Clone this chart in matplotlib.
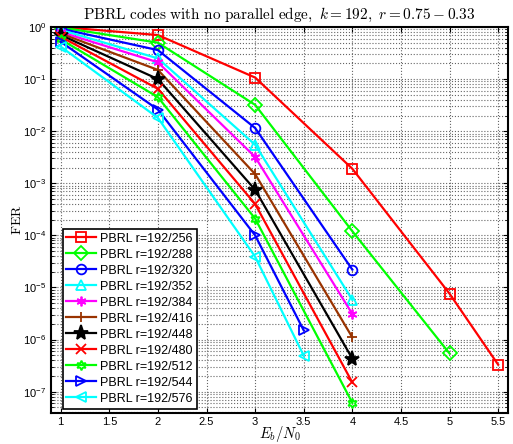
import matplotlib
matplotlib.use('Agg')
import matplotlib.pyplot as plt
import matplotlib.ticker as mticker
import numpy as np

plt.rcParams['mathtext.fontset'] = 'cm'
plt.rcParams['font.family'] = ['Liberation Sans', 'DejaVu Sans']

# Eb/N0 and FER
snr_long = [1, 2, 3, 4, 5, 5.5]
snr_288 = [1, 2, 3, 4, 5]
snr_4 = [1, 2, 3, 4]
snr_35 = [1, 2, 3, 3.5]

fer_256 = [1.0, 0.70, 0.107, 1.9e-3, 7.6e-6, 3.3e-7]
fer_288 = [0.98, 0.50, 0.032, 1.2e-4, 5.4e-7]
fer_320 = [0.93, 0.36, 0.0115, 2.2e-5]
fer_352 = [0.88, 0.25, 0.0055, 5.8e-6]
fer_384 = [0.80, 0.21, 3.2e-3, 3.1e-6]
fer_416 = [0.75, 0.15, 1.5e-3, 1.1e-6]
fer_448 = [0.70, 0.10, 7.5e-4, 4.3e-7]
fer_480 = [0.65, 0.065, 4.0e-4, 1.5e-7]
fer_512 = [0.58, 0.045, 2.1e-4, 6.1e-8]
fer_544 = [0.52, 0.026, 1.0e-4, 1.5e-6]
fer_576 = [0.42, 0.018, 3.9e-5, 4.9e-7]

labels = ['PBRL r=192/256', 'PBRL r=192/288', 'PBRL r=192/320', 'PBRL r=192/352',
          'PBRL r=192/384', 'PBRL r=192/416', 'PBRL r=192/448', 'PBRL r=192/480',
          'PBRL r=192/512', 'PBRL r=192/544', 'PBRL r=192/576']

series = [
    (snr_long, fer_256, 'red', 's', 'none'),
    (snr_288, fer_288, '#00ff00', 'D', 'none'),
    (snr_4, fer_320, 'blue', 'o', 'none'),
    (snr_4, fer_352, 'cyan', '^', 'none'),
    (snr_4, fer_384, 'magenta', (6, 2, 0), 'magenta'),
    (snr_4, fer_416, '#993300', '+', 'none'),
    (snr_4, fer_448, 'black', '*', 'black'),
    (snr_4, fer_480, 'red', 'x', 'none'),
    (snr_4, fer_512, '#00ff00', (6, 1, 0), 'none'),
    (snr_35, fer_544, 'blue', '>', 'none'),
    (snr_35, fer_576, 'cyan', '<', 'none'),
]

fig = plt.figure(figsize=(5.13, 4.44), dpi=100)
ax = fig.add_axes([0.0994, 0.0698, 0.8906, 0.8694])

for (x, y, c, m, fc), lab in zip(series, labels):
    ms = 11 if m == '*' else 7
    ax.semilogy(x, y, color=c, marker=m, markerfacecolor=fc, markeredgecolor=c,
                markersize=ms, markeredgewidth=1.3, linewidth=1.6, label=lab)

ax.set_xlim(0.9, 5.6)
ax.set_ylim(10 ** -7.41, 1)
ax.set_xticks(np.arange(1, 5.6, 0.5))
ax.set_xticklabels(['1', '1.5', '2', '2.5', '3', '3.5', '4', '4.5', '5', '5.5'])
ax.set_yticks([10.0 ** -k for k in range(8)])
ax.yaxis.set_minor_locator(mticker.LogLocator(base=10, subs=np.arange(2, 10)))
ax.yaxis.set_minor_formatter(mticker.NullFormatter())
ax.grid(True, which='major', linestyle=':', color='#666666', linewidth=0.8)
ax.grid(True, which='minor', axis='y', linestyle=':', color='#666666', linewidth=0.8)
ax.tick_params(which='both', direction='in', top=True, right=True, labelsize=8)
ax.tick_params(axis='x', pad=3)
for s in ax.spines.values():
    s.set_linewidth(1.5)

ax.set_title(r'$\mathrm{PBRL\ codes\ with\ no\ parallel\ edge,}\ k=192,\ r=0.75-0.33$',
             fontsize=11, pad=6)
ax.set_xlabel(r'$E_b/N_0$', fontsize=10.5, labelpad=-2)
ax.set_ylabel(r'$\mathrm{FER}$', fontsize=10, labelpad=-1)

leg = ax.legend(loc='lower left', bbox_to_anchor=(0.02, 0.005), fontsize=9,
                labelspacing=0.32, handlelength=2.4, handletextpad=0.3,
                borderpad=0.3, borderaxespad=0.2, fancybox=False, framealpha=1)
leg.get_frame().set_edgecolor('black')
leg.get_frame().set_linewidth(1.2)

fig.savefig('out.png', dpi=100)
